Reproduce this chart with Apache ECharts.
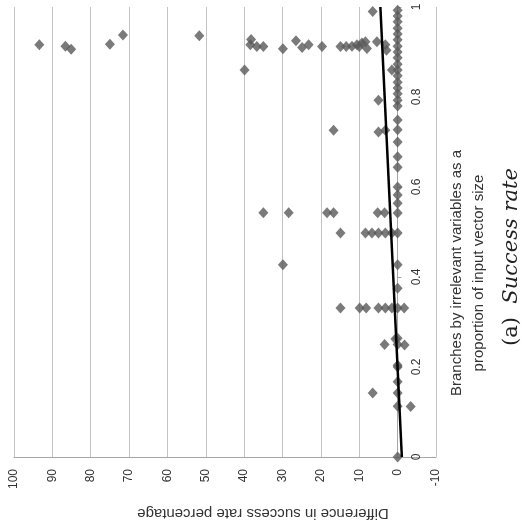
<!DOCTYPE html>
<html>
<head>
<meta charset="utf-8">
<script src="https://cdn.jsdelivr.net/npm/echarts@6/dist/echarts.min.js"></script>
<style>
html, body { margin: 0; padding: 0; background: #fff; }
#chart { width: 528px; height: 525px; }
</style>
</head>
<body>
<div id="chart"></div>
<script>
// branches by irrelevant variables / input vector size (plotted on the vertical axis)
var proportion = [
    0.916, 0.913, 0.906, 0.917, 0.938, 0.936, 0.928, 0.916, 0.912, 0.912,
    0.907, 0.925, 0.910, 0.916, 0.912, 0.912, 0.912, 0.913, 0.916, 0.920,
    0.912, 0.923, 0.908, 0.923, 0.916, 0.904,
    0.990, 0.860, 0.860, 0.793, 0.726, 0.722, 0.726,
    0.543, 0.543, 0.543, 0.543, 0.543, 0.543,
    0.498, 0.498, 0.498, 0.498, 0.498, 0.498,
    0.427,
    0.331, 0.331, 0.331, 0.331, 0.331, 0.331, 0.331,
    0.250, 0.262, 0.249, 0.142, 0.112
];
// difference in success rate percentage (plotted on the horizontal axis, reversed)
var difference = [
    93.4, 86.6, 85.1, 75.0, 71.6, 51.7, 38.2, 38.4, 36.7, 35.0,
    29.9, 26.5, 24.9, 23.2, 19.7, 14.9, 13.4, 11.9, 10.6, 9.3,
    10.0, 8.4, 8.0, 5.4, 3.2, 2.9,
    6.5, 39.9, 1.5, 5.0, 16.7, 5.0, 3.2,
    35.0, 28.4, 18.4, 16.7, 5.2, 3.4,
    14.9, 8.4, 6.7, 5.0, 3.2, 1.5,
    29.9,
    14.9, 9.9, 8.2, 5.0, 3.2, 1.5, -1.7,
    3.4, 0.6, -1.8, 6.5, -3.4
];
// runs with no difference at all
var zeroProportion = [
    0.993, 0.980, 0.967, 0.953, 0.940, 0.927, 0.913, 0.900, 0.887, 0.873,
    0.860, 0.847, 0.833, 0.820, 0.807, 0.793, 0.780, 0.749, 0.727, 0.700,
    0.667, 0.644, 0.600, 0.582, 0.564, 0.542, 0.498, 0.427, 0.375, 0.331,
    0.264, 0.250, 0.204, 0.200, 0.167, 0.142, 0.113, 0.000
];
// linear trend line end points
var trendProportion = [0, 1];
var trendDifference = [-1.1, 4.5];

var diffTicks = { min: -10, max: 100, step: 10 };
var propTicks = { min: 0, max: 1, step: 0.2 };

var points = [];
for (var i = 0; i < proportion.length; i++) {
    points.push([difference[i], proportion[i]]);
}
zeroProportion.forEach(function (p) {
    points.push([0, p]);
});
var trend = trendProportion.map(function (p, i) {
    return [trendDifference[i], p];
});

var gridColor = '#c3c3c3';
var textColor = '#333';
var font = 'Liberation Sans, Arial, sans-serif';

var chart = echarts.init(document.getElementById('chart'));
chart.setOption({
    animation: false,
    backgroundColor: '#fff',
    grid: { left: 14, right: 92, top: 7, bottom: 68 },
    xAxis: {
        type: 'value',
        inverse: true,
        min: diffTicks.min,
        max: diffTicks.max,
        interval: diffTicks.step,
        position: 'bottom',
        axisLine: { show: true, onZero: false, lineStyle: { color: '#a6a6a6' } },
        axisTick: { show: false },
        splitLine: { show: true, lineStyle: { color: gridColor } },
        axisLabel: { rotate: 90, margin: 12, fontSize: 12, color: textColor, fontFamily: font }
    },
    yAxis: {
        type: 'value',
        min: propTicks.min,
        max: propTicks.max,
        interval: propTicks.step,
        position: 'right',
        // sit on the zero line of the difference axis
        offset: -38.5,
        axisLine: { show: true, onZero: false, lineStyle: { color: '#a6a6a6' } },
        axisTick: { show: true, length: 4, lineStyle: { color: '#a6a6a6' } },
        splitLine: { show: false },
        axisLabel: { rotate: 90, margin: 13, fontSize: 12, color: textColor, fontFamily: font }
    },
    graphic: [
        {
            type: 'text', x: 263, y: 513, rotation: Math.PI,
            style: {
                text: 'Difference in success rate percentage',
                font: '15px ' + font, fill: textColor,
                textAlign: 'center', textVerticalAlign: 'middle'
            }
        },
        {
            type: 'text', x: 468, y: 273, rotation: Math.PI / 2,
            style: {
                text: 'Branches by irrelevant variables as a\nproportion of input vector size',
                font: '15px ' + font, fill: textColor, lineHeight: 22,
                textAlign: 'center', textVerticalAlign: 'middle'
            }
        },
        {
            type: 'text', x: 512, y: 257, rotation: Math.PI / 2,
            style: {
                rich: {
                    r: { fontFamily: 'DejaVu Serif', fontSize: 21, fill: '#222' },
                    i: { fontFamily: 'DejaVu Serif', fontStyle: 'italic', fontSize: 21, fill: '#222' }
                },
                text: '{r|(a)  }{i|Success rate}',
                textAlign: 'center', textVerticalAlign: 'middle'
            }
        }
    ],
    series: [
        {
            type: 'scatter',
            symbol: 'diamond',
            symbolSize: [10, 11],
            itemStyle: { color: '#595959' },
            data: points
        },
        {
            type: 'line',
            symbol: 'none',
            lineStyle: { color: '#000', width: 2.5 },
            data: trend
        }
    ]
});
</script>
</body>
</html>
